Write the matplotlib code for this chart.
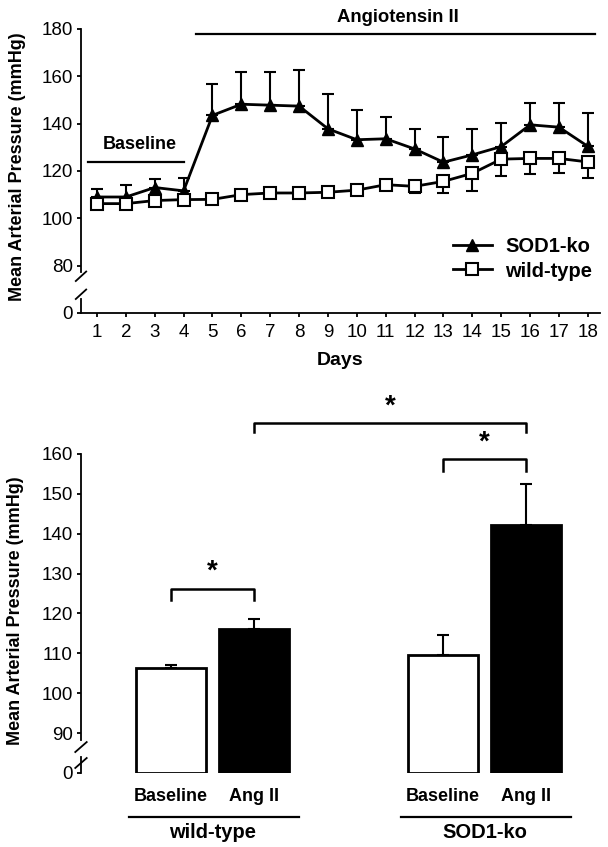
import matplotlib.pyplot as plt
import numpy as np

plt.rcParams['font.family'] = ['Liberation Sans', 'DejaVu Sans']

# time course (top panel)
DAYS = np.arange(1, 19)
SOD1_MEAN = [109.0, 109.0, 113.0, 111.6, 143.5, 148.2, 147.8, 147.4, 137.8,
             133.2, 133.6, 129.3, 123.7, 126.8, 130.3, 139.5, 138.5, 130.4]
SOD1_SEM = [3.3, 5.0, 3.5, 5.4, 13.3, 13.7, 14.1, 15.2, 14.7,
            12.4, 9.0, 8.4, 10.8, 11.1, 10.1, 9.4, 10.2, 13.9]
WT_MEAN = [106.2, 106.2, 107.5, 107.9, 108.0, 110.0, 110.7, 110.7, 111.0,
           111.9, 114.2, 113.5, 115.6, 119.0, 125.0, 125.3, 125.3, 123.8]
WT_SEM = [1.0, 1.2, 1.0, 1.0, 0.8, 1.0, 0.8, 0.8, 1.2,
          1.4, 2.0, 2.6, 4.8, 7.3, 7.0, 6.6, 6.0, 6.8]
DAY_TICKS = [str(d) for d in DAYS]
TOP_YTICKS = [60, 80, 100, 120, 140, 160, 180]
TOP_YLABELS = ['0', '80', '100', '120', '140', '160', '180']

# summary bars (bottom panel)
GROUPS = ['wild-type', 'SOD1-ko']
CONDITIONS = ['Baseline', 'Ang II', 'Baseline', 'Ang II']
BAR_MEAN = [106.3, 116.2, 109.6, 142.3]
BAR_SEM = [0.7, 2.5, 4.9, 10.2]
BAR_X = [0, 1.15, 3.78, 4.93]
BAR_COLORS = ['white', 'black', 'white', 'black']
BOT_YTICKS = [80, 90, 100, 110, 120, 130, 140, 150, 160]
BOT_YLABELS = ['0', '90', '100', '110', '120', '130', '140', '150', '160']

LW = 1.3


def broken_left_axis(ax, ymin, spine_from, low_to, slashes, dx, dy):
    ax.spines['left'].set_bounds(spine_from, ax.get_ylim()[1])
    trans = ax.get_yaxis_transform()
    ax.plot([0, 0], [ymin, low_to], color='black', lw=LW,
            transform=trans, clip_on=False)
    for y in slashes:
        ax.plot([-dx, dx], [y - dy, y + dy], color='black', lw=LW,
                transform=trans, clip_on=False)


def plot_time_course(ax):
    zeros = np.zeros(len(DAYS))
    ax.errorbar(DAYS, SOD1_MEAN, yerr=[zeros, SOD1_SEM], fmt='none',
                ecolor='black', elinewidth=1.5, capsize=4, capthick=1.5)
    ax.errorbar(DAYS, WT_MEAN, yerr=[WT_SEM, zeros], fmt='none',
                ecolor='black', elinewidth=1.5, capsize=4, capthick=1.5)
    ax.plot(DAYS, SOD1_MEAN, '-^', color='black', lw=2, ms=9,
            label='SOD1-ko', zorder=3)
    ax.plot(DAYS, WT_MEAN, '-s', color='black', mfc='white', mec='black',
            mew=1.5, lw=2, ms=8, label='wild-type', zorder=4)

    ax.set_xlim(0.446, 18.42)
    ax.set_ylim(60, 180)
    ax.set_xticks(DAYS)
    ax.set_xticklabels(DAY_TICKS, fontsize=13.5)
    ax.set_yticks(TOP_YTICKS)
    ax.set_yticklabels(TOP_YLABELS, fontsize=13.5)
    ax.tick_params(axis='y', length=3, width=LW, pad=3)
    ax.tick_params(axis='x', length=3, width=LW, pad=5)
    for s in ['top', 'right']:
        ax.spines[s].set_visible(False)
    for s in ['left', 'bottom']:
        ax.spines[s].set_linewidth(LW)
    broken_left_axis(ax, 60, 77.3, 66.0, [75.5, 67.9], 0.010, 2.0)

    ax.set_xlabel('Days', fontsize=14, fontweight='bold', labelpad=8)
    ax.set_ylabel('Mean Arterial Pressure (mmHg)', fontsize=13,
                  fontweight='bold', va='center')
    ax.yaxis.set_label_coords(-0.123, 0.514)

    # treatment periods
    ax.plot([0.69, 4.01], [123.8, 123.8], color='black', lw=1.6)
    ax.text(2.49, 131, 'Baseline', ha='center', va='center',
            fontsize=13, fontweight='bold')
    ax.plot([4.43, 18.24], [177.9, 177.9], color='black', lw=1.6,
            clip_on=False)
    ax.text(11.42, 185, 'Angiotensin II', ha='center', va='center',
            fontsize=13.3, fontweight='bold', clip_on=False)

    ax.legend(loc='center right', bbox_to_anchor=(1.0, 0.19), frameon=False,
              prop={'weight': 'bold', 'size': 14.5}, handlelength=1.95,
              handletextpad=0.65, labelspacing=0.25, borderaxespad=0)


def bracket(ax, x0, x1, y, leg):
    ax.plot([x0, x0, x1, x1], [y - leg, y, y, y - leg], color='black',
            lw=1.8, clip_on=False)
    ax.text((x0 + x1) / 2, y + 4.2, '*', ha='center', va='center',
            fontsize=20, fontweight='bold', clip_on=False)


def plot_summary(ax):
    ax.bar(BAR_X, np.array(BAR_MEAN) - 80, bottom=80, width=0.98,
           color=BAR_COLORS, edgecolor='black', linewidth=2, zorder=2)
    ax.errorbar(BAR_X, BAR_MEAN, yerr=[np.zeros(len(BAR_SEM)), BAR_SEM],
                fmt='none', ecolor='black', elinewidth=1.5, capsize=4,
                capthick=1.5, zorder=1)

    ax.set_xlim(-1.25, 5.958)
    ax.set_ylim(80, 160)
    ax.set_yticks(BOT_YTICKS)
    ax.set_yticklabels(BOT_YLABELS, fontsize=13.5)
    ax.set_xticks(BAR_X)
    ax.set_xticklabels(CONDITIONS, fontsize=13, fontweight='bold')
    ax.tick_params(axis='x', length=0, pad=11)
    ax.tick_params(axis='y', length=3, width=LW, pad=3)
    for s in ['top', 'right', 'bottom']:
        ax.spines[s].set_visible(False)
    ax.spines['left'].set_linewidth(LW)
    broken_left_axis(ax, 80, 88.3, 84.0, [86.5, 82.5], 0.011, 1.25)

    ax.set_ylabel('Mean Arterial Pressure (mmHg)', fontsize=13,
                  fontweight='bold', va='center')
    ax.yaxis.set_label_coords(-0.127, 0.508)

    # group underlines and names
    for i, name in enumerate(GROUPS):
        xa, xb = BAR_X[2 * i], BAR_X[2 * i + 1]
        ax.plot([xa - 0.58, xb + 0.63], [69, 69], color='black', lw=1.6,
                clip_on=False)
        ax.text((xa + xb) / 2, 65, name, ha='center', va='center',
                fontsize=14.5, fontweight='bold', clip_on=False)

    # significance
    bracket(ax, BAR_X[0], BAR_X[1], 126.2, 2.8)
    bracket(ax, BAR_X[2], BAR_X[3], 158.7, 3.0)
    bracket(ax, BAR_X[1], BAR_X[3], 167.8, 2.3)


fig = plt.figure(figsize=(6.08, 8.47), dpi=100)
ax_top = fig.add_axes([0.1332, 0.6305, 0.8536, 0.3353])
ax_bot = fig.add_axes([0.1332, 0.0874, 0.8536, 0.3766])
plot_time_course(ax_top)
plot_summary(ax_bot)
fig.savefig('out.png', dpi=100)
